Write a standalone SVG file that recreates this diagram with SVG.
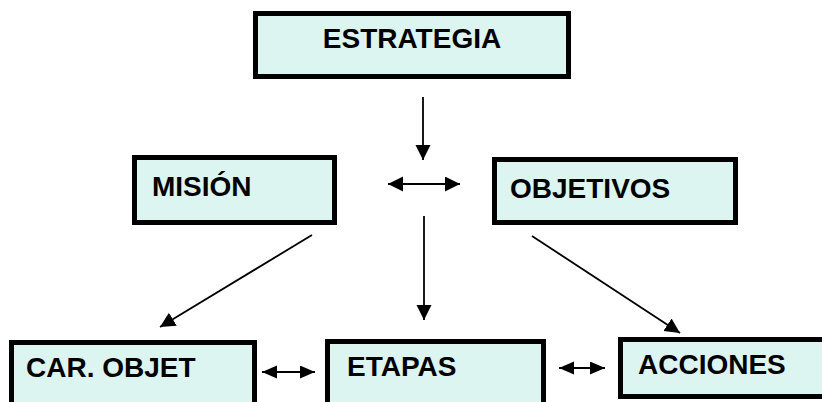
<svg xmlns="http://www.w3.org/2000/svg" width="822" height="402" viewBox="0 0 822 402">
<style>
.box{fill:#DDF5F0;stroke:#000;stroke-width:5}
.lbl{font-family:"Liberation Sans",Arial,sans-serif;font-weight:bold;font-size:28px;fill:#000}
.con{stroke:#000;stroke-width:1.8;fill:none}
</style>
<defs>
<marker id="ah" markerUnits="userSpaceOnUse" markerWidth="16" markerHeight="16" refX="15" refY="7.5" orient="auto-start-reverse">
<path d="M0,0 L15,7.5 L0,15 z" fill="#000"/>
</marker>
<marker id="ahs" markerUnits="userSpaceOnUse" markerWidth="16" markerHeight="14" refX="15" refY="6.5" orient="auto-start-reverse">
<path d="M0,0 L15,6.5 L0,13 z" fill="#000"/>
</marker>
</defs>
<rect width="822" height="402" fill="#fff"/>
<g id="connectors">
<line class="con" x1="423" y1="97" x2="423" y2="160" marker-end="url(#ah)"/>
<line class="con" x1="388" y1="184" x2="460" y2="184" marker-start="url(#ah)" marker-end="url(#ah)"/>
<line class="con" x1="424" y1="216" x2="424" y2="320" marker-end="url(#ah)"/>
<line class="con" x1="312" y1="235" x2="160" y2="327" marker-end="url(#ah)"/>
<line class="con" x1="532" y1="236" x2="680" y2="333" marker-end="url(#ah)"/>
<line class="con" x1="262" y1="372" x2="315" y2="372" marker-start="url(#ahs)" marker-end="url(#ahs)"/>
<line class="con" x1="559" y1="368" x2="605" y2="368" marker-start="url(#ahs)" marker-end="url(#ahs)"/>
</g>
<g id="estrategia">
<rect class="box" x="255.5" y="13.5" width="313" height="63"/>
<text class="lbl" x="412" y="48" text-anchor="middle">ESTRATEGIA</text>
</g>
<g id="mision">
<rect class="box" x="134.5" y="157.5" width="200" height="65"/>
<text class="lbl" x="152" y="196">MISIÓN</text>
</g>
<g id="objetivos">
<rect class="box" x="494.5" y="159.5" width="241" height="63"/>
<text class="lbl" x="510" y="198">OBJETIVOS</text>
</g>
<g id="car-objet">
<rect class="box" x="11.5" y="342.5" width="243" height="80"/>
<text class="lbl" x="26" y="377">CAR. OBJET</text>
</g>
<g id="etapas">
<rect class="box" x="327.5" y="341.5" width="216" height="80"/>
<text class="lbl" x="347" y="376">ETAPAS</text>
</g>
<g id="acciones">
<rect class="box" x="620.5" y="339.5" width="220" height="57"/>
<text class="lbl" x="638" y="374">ACCIONES</text>
</g>
</svg>
